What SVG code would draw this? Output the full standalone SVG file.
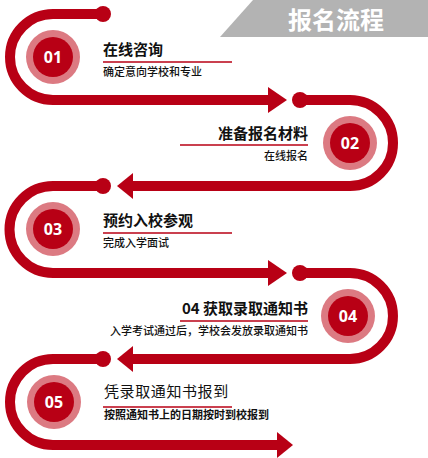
<svg xmlns="http://www.w3.org/2000/svg" width="428" height="458" viewBox="0 0 428 458">
<defs>
<style>
.track{fill:none;stroke:#b80015;stroke-width:10}
.red{fill:#b80015}
.ring{fill:#dc7a82}
.num{fill:#fff;font-family:"Open Sans","Liberation Sans",sans-serif;font-weight:bold;font-size:16px;text-anchor:middle}
.t{fill:#111;font-family:"Noto Sans CJK SC",sans-serif;font-weight:bold;font-size:15px}
.s{fill:#111;font-family:"Noto Sans CJK SC",sans-serif;font-weight:500;font-size:11px}
.ul{stroke:#b80015;stroke-width:1.5}
.r{text-anchor:end}
</style>
</defs>
<rect width="428" height="458" fill="#fff"/>
<g id="header">
<polygon points="220,37 253,0 428,0 428,37" fill="#b3b3b3"/>
<text x="336" y="29" fill="#fff" font-family="Noto Sans CJK SC,sans-serif" font-weight="bold" font-size="24" text-anchor="middle">报名流程</text>
</g>
<g id="connectors">
<path class="track" d="M103,14 H53 A43,43 0 0 0 53,100 H270"/>
<circle class="red" cx="103" cy="14" r="8"/>
<polygon class="red" points="268,87 287,100 268,113"/>
<path class="track" d="M300,100 H350 A43,43 0 0 1 350,186 H131"/>
<circle class="red" cx="300" cy="100" r="8"/>
<polygon class="red" points="133,173 117,186 133,199"/>
<path class="track" d="M103,186 H53 A43.5,43.5 0 0 0 53,273 H270"/>
<circle class="red" cx="103" cy="186" r="8"/>
<polygon class="red" points="268,260 287,273 268,286"/>
<path class="track" d="M300,273 H350 A43,43 0 0 1 350,359 H131"/>
<circle class="red" cx="300" cy="273" r="8"/>
<polygon class="red" points="133,346 117,359 133,372"/>
<path class="track" d="M103,359 H53 A43,43 0 0 0 53,445 H279"/>
<circle class="red" cx="103" cy="359" r="8"/>
<polygon class="red" points="277,432 293,445 277,458"/>
</g>
<g id="step1">
<circle class="ring" cx="53" cy="57" r="27"/>
<circle class="red" cx="53" cy="57" r="20"/>
<text class="num" x="53" y="63">01</text>
<text class="t" x="103" y="55">在线咨询</text>
<line class="ul" x1="103" y1="62" x2="232" y2="62"/>
<text class="s" x="103" y="76">确定意向学校和专业</text>
</g>
<g id="step2">
<circle class="ring" cx="350" cy="143" r="27"/>
<circle class="red" cx="350" cy="143" r="20"/>
<text class="num" x="350" y="149">02</text>
<text class="t r" x="308" y="139">准备报名材料</text>
<line class="ul" x1="180" y1="145" x2="308" y2="145"/>
<text class="s r" x="308" y="160">在线报名</text>
</g>
<g id="step3">
<circle class="ring" cx="53" cy="229" r="27"/>
<circle class="red" cx="53" cy="229" r="20"/>
<text class="num" x="53" y="235">03</text>
<text class="t" x="103" y="226">预约入校参观</text>
<line class="ul" x1="103" y1="233" x2="232" y2="233"/>
<text class="s" x="103" y="247">完成入学面试</text>
</g>
<g id="step4">
<circle class="ring" cx="348" cy="316" r="27"/>
<circle class="red" cx="348" cy="316" r="20"/>
<text class="num" x="348" y="322">04</text>
<text class="t r" x="308" y="314">04 获取录取通知书</text>
<line class="ul" x1="180" y1="321" x2="308" y2="321"/>
<text class="s r" x="308" y="335">入学考试通过后，学校会发放录取通知书</text>
</g>
<g id="step5">
<circle class="ring" cx="54" cy="402" r="27"/>
<circle class="red" cx="54" cy="402" r="20"/>
<text class="num" x="54" y="408">05</text>
<text class="t" x="104" y="397" style="font-weight:normal;letter-spacing:0.6px">凭录取通知书报到</text>
<line class="ul" x1="103" y1="407" x2="232" y2="407"/>
<text class="s" x="104" y="419" style="font-weight:600">按照通知书上的日期按时到校报到</text>
</g>
</svg>
